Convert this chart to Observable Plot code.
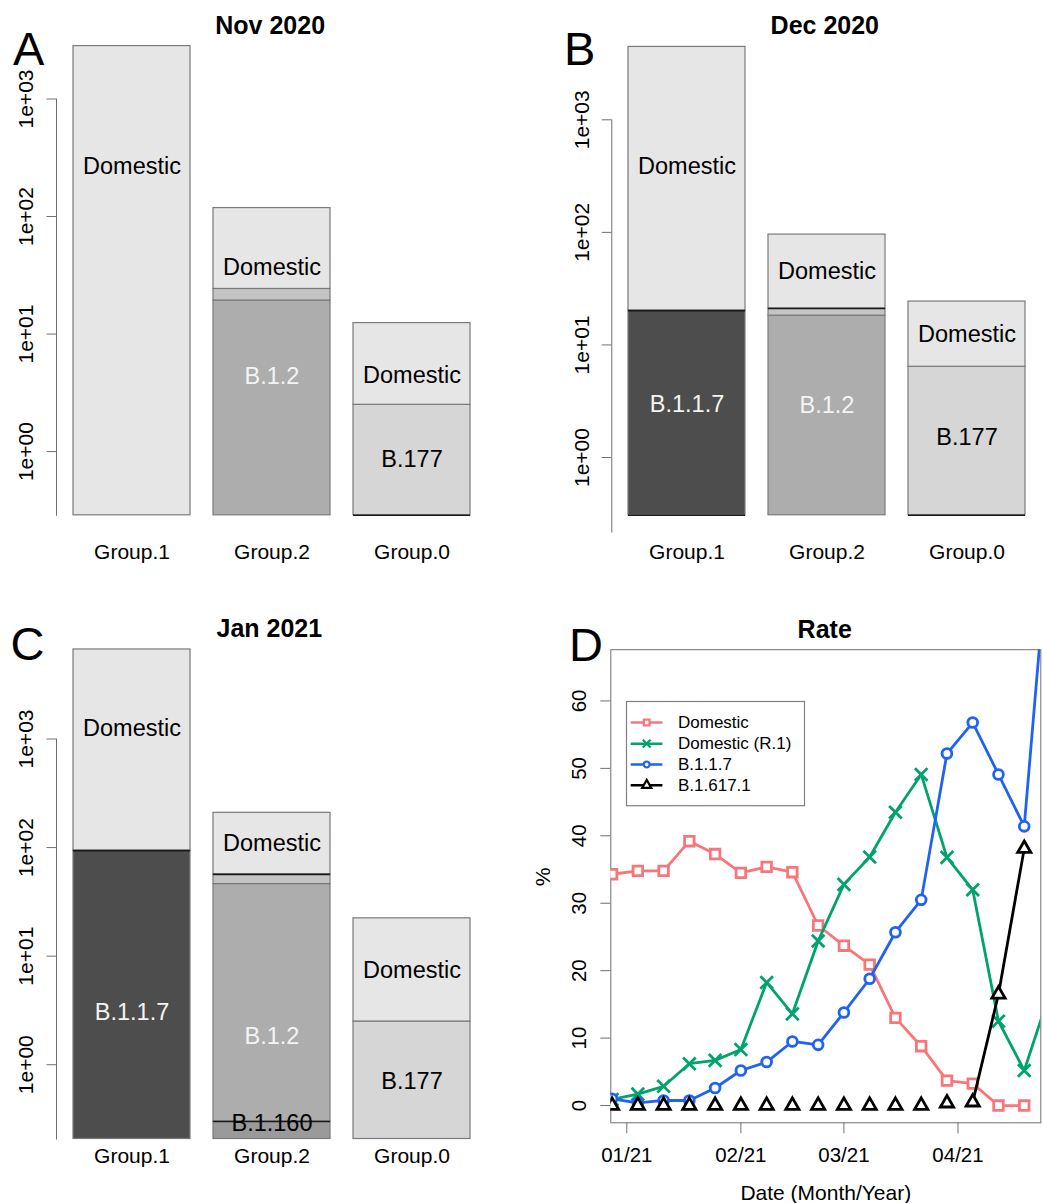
<!DOCTYPE html>
<html>
<head>
<meta charset="utf-8">
<script src="https://cdn.jsdelivr.net/npm/d3@7"></script>
<script src="https://cdn.jsdelivr.net/npm/@observablehq/plot@0.6"></script>
<style>
  html, body { margin: 0; padding: 0; background: #fff; }
  #root { position: relative; width: 1043px; height: 1203px; overflow: hidden; background: #fff;
          font-family: "Liberation Sans", Arial, Helvetica, sans-serif; color: #000; }
  .title { position: absolute; font-weight: bold; font-size: 25px; line-height: 25px; white-space: nowrap; transform: translateX(-50%); }
  .letter { position: absolute; font-size: 47px; line-height: 47px; white-space: nowrap; }
</style>
</head>
<body>
<div id="root"></div>
<script>
// ---------------- DATA ----------------
const groups = ["Group.1", "Group.2", "Group.0"];
const logTicks = [1, 10, 100, 1000];
const logTickLabels = ["1e+00", "1e+01", "1e+02", "1e+03"];

// stacked counts, bottom to top within each group
const novSegments = [
  {group: "Group.1", lineage: "Domestic", count: 2820},
  {group: "Group.2", lineage: "B.1.2", count: 19.3},
  {group: "Group.2", lineage: "Other", count: 4.9},
  {group: "Group.2", lineage: "Domestic", count: 93.8},
  {group: "Group.0", lineage: "B.177", count: 2.5},
  {group: "Group.0", lineage: "Domestic", count: 9.9}
];
const decSegments = [
  {group: "Group.1", lineage: "B.1.1.7", count: 20.2},
  {group: "Group.1", lineage: "Domestic", count: 4420},
  {group: "Group.2", lineage: "B.1.2", count: 18.2},
  {group: "Group.2", lineage: "Other", count: 2.9},
  {group: "Group.2", lineage: "Domestic", count: 74.5},
  {group: "Group.0", lineage: "B.177", count: 6.4},
  {group: "Group.0", lineage: "Domestic", count: 17.9}
];
const janSegments = [
  {group: "Group.1", lineage: "B.1.1.7", count: 93.8},
  {group: "Group.1", lineage: "Domestic", count: 6586},
  {group: "Group.2", lineage: "B.1.160", count: 0.3},
  {group: "Group.2", lineage: "B.1.2", count: 45.8},
  {group: "Group.2", lineage: "Other", count: 10.5},
  {group: "Group.2", lineage: "Domestic", count: 152.4},
  {group: "Group.0", lineage: "B.177", count: 2.5},
  {group: "Group.0", lineage: "Domestic", count: 19.8}
];

// bar label anchors (value on the log axis)
const novLabels = [
  {group: "Group.1", lineage: "Domestic", at: 268},
  {group: "Group.2", lineage: "Domestic", at: 37.2},
  {group: "Group.2", lineage: "B.1.2", at: 4.37},
  {group: "Group.0", lineage: "Domestic", at: 4.47},
  {group: "Group.0", lineage: "B.177", at: 0.865}
];
const decLabels = [
  {group: "Group.1", lineage: "Domestic", at: 386},
  {group: "Group.1", lineage: "B.1.1.7", at: 2.93},
  {group: "Group.2", lineage: "Domestic", at: 44.9},
  {group: "Group.2", lineage: "B.1.2", at: 2.91},
  {group: "Group.0", lineage: "Domestic", at: 12.3},
  {group: "Group.0", lineage: "B.177", at: 1.51}
];
const janLabels = [
  {group: "Group.1", lineage: "Domestic", at: 1250},
  {group: "Group.1", lineage: "B.1.1.7", at: 3.04},
  {group: "Group.2", lineage: "Domestic", at: 110},
  {group: "Group.2", lineage: "B.1.2", at: 1.82},
  {group: "Group.2", lineage: "B.1.160", at: 0.286},
  {group: "Group.0", lineage: "Domestic", at: 7.46},
  {group: "Group.0", lineage: "B.177", at: 0.70}
];

// segment edges drawn darker
const novDarkEdges = [{group: "Group.0", lineage: "B.177", side: "bottom"}];
const decDarkEdges = [
  {group: "Group.1", lineage: "B.1.1.7", side: "bottom"},
  {group: "Group.1", lineage: "B.1.1.7", side: "top"},
  {group: "Group.2", lineage: "Other", side: "top"},
  {group: "Group.0", lineage: "B.177", side: "bottom"}
];
const janDarkEdges = [
  {group: "Group.1", lineage: "B.1.1.7", side: "top"},
  {group: "Group.2", lineage: "Other", side: "top"},
  {group: "Group.2", lineage: "B.1.160", side: "top"}
];

// Rate panel
const weeks = ["2020-12-28","2021-01-04","2021-01-11","2021-01-18","2021-01-25","2021-02-01","2021-02-08",
  "2021-02-15","2021-02-22","2021-03-01","2021-03-08","2021-03-15","2021-03-22","2021-03-29","2021-04-05",
  "2021-04-12","2021-04-19","2021-04-26"];
const domesticRate   = [34.3, 34.8, 34.8, 39.2, 37.3, 34.5, 35.4, 34.6, 26.7, 23.7, 20.9, 13.0, 8.8, 3.7, 3.25, 0, 0, null];
const domesticR1Rate = [0.9, 1.7, 2.85, 6.2, 6.7, 8.3, 18.25, 13.6, 24.4, 32.8, 36.85, 43.5, 49.1, 36.8, 32.0, 12.5, 5.2, 16.8];
const b117Rate       = [1.0, 0.4, 0.75, 0.75, 2.6, 5.2, 6.45, 9.5, 9.0, 13.8, 18.8, 25.7, 30.5, 52.2, 56.8, 49.1, 41.4, 86.5];
const b16171Rate     = [0, 0, 0, 0, 0, 0, 0, 0, 0, 0, 0, 0, 0, 0.35, 0.5, 16.5, 38.1, null];
const b16171LineStart = "2021-04-05";
const seriesNames = ["Domestic", "Domestic (R.1)", "B.1.1.7", "B.1.617.1"];
const rateTicks = [0, 10, 20, 30, 40, 50, 60];
const monthTicks = ["2021-01-01", "2021-02-01", "2021-03-01", "2021-04-01"];
const monthTickLabels = ["01/21", "02/21", "03/21", "04/21"];
const rateXDomain = ["2020-12-27T15:40:00Z", "2021-04-23T12:00:00Z"];
const rateYDomain = [-2.56, 67.6];

// ---------------- STYLE ----------------
const fontFamily = '"Liberation Sans", Arial, Helvetica, sans-serif';
const lineageFill = {"Domestic": "#e6e6e6", "B.1.1.7": "#4d4d4d", "B.1.2": "#adadad", "Other": "#c4c4c4", "B.177": "#d6d6d6", "B.1.160": "#9a9a9a"};
const labelInk = {"Domestic": "#000000", "B.1.1.7": "#f4f4f4", "B.1.2": "#f4f4f4", "B.177": "#000000", "B.1.160": "#000000"};
const seriesColors = ["#f8767a", "#00a36c", "#1f62f5", "#000000"];
const seriesSymbols = ["square", "times", "circle", "triangle"];
const seriesR = [5.4, 5.8, 4.9, 4.9];
const axisGray = "#707070";

const root = document.getElementById("root");
function place(node, left, top) {
  node.style.position = "absolute";
  node.style.left = left + "px";
  node.style.top = top + "px";
  root.appendChild(node);
}

function stackSegments(segments, base) {
  const acc = new Map();
  return segments.map(s => {
    const prev = acc.has(s.group) ? acc.get(s.group) : 0;
    const y1 = acc.has(s.group) ? prev : base;
    const y2 = prev + s.count;
    acc.set(s.group, y2);
    return {...s, y1, y2};
  });
}

function barPanel(cfg) {
  const rows = stackSegments(cfg.segments, cfg.base);
  const edges = cfg.darkEdges.map(e => {
    const r = rows.find(r => r.group === e.group && r.lineage === e.lineage);
    return {group: e.group, y: e.side === "top" ? r.y2 : r.y1};
  });
  const labels = cfg.labels.map(l => ({...l, text: l.lineage}));
  return Plot.plot({
    width: cfg.width, height: cfg.height,
    marginLeft: cfg.marginLeft, marginRight: cfg.marginRight,
    marginTop: cfg.marginTop, marginBottom: cfg.marginBottom,
    style: {fontFamily, background: "white", overflow: "visible", color: "black"},
    x: {type: "band", domain: groups, paddingInner: 1 / 6, paddingOuter: cfg.paddingOuter, axis: null, label: null},
    y: {type: "log", domain: [cfg.yMin, 1000], axis: null, label: null},
    marks: [
      Plot.barY(rows, {x: "group", y1: "y1", y2: "y2", fill: d => lineageFill[d.lineage], stroke: "#7a7a7a", strokeWidth: 1.2}),
      Plot.tickY(edges, {x: "group", y: "y", stroke: "#1a1a1a", strokeWidth: 1.6}),
      Plot.text(labels, {x: "group", y: "at", text: "text", fill: d => labelInk[d.lineage], fontSize: 23.5, lineAnchor: "middle"}),
      Plot.frame({anchor: "left", stroke: axisGray}),
      Plot.axisY(logTicks, {tickSize: 9.5, stroke: axisGray, fill: "none", tickFormat: () => "", label: null}),
      Plot.text(logTicks, {y: d => d, text: (d, i) => logTickLabels[i], frameAnchor: "left", dx: -30, rotate: -90,
        lineAnchor: "middle", textAnchor: "middle", fontSize: 21, fill: "black"}),
      Plot.axisX({tickSize: 0, tickPadding: cfg.groupPad, fontSize: 21, fill: "black", label: null})
    ]
  });
}

// Panel A
place(barPanel({segments: novSegments, labels: novLabels, darkEdges: novDarkEdges, base: 0.287, yMin: 0.287,
  width: 521, height: 600, marginLeft: 56, marginRight: 34.7, marginTop: 98.5, marginBottom: 85.2,
  paddingOuter: 0.1138, groupPad: 28.8}), 0, 0);
// Panel B
place(barPanel({segments: decSegments, labels: decLabels, darkEdges: decDarkEdges, base: 0.307, yMin: 0.218,
  width: 522, height: 600, marginLeft: 90.3, marginRight: 2.3, marginTop: 119.3, marginBottom: 68.5,
  paddingOuter: 0.1117, groupPad: 12.1}), 521, 0);
// Panel C
place(barPanel({segments: janSegments, labels: janLabels, darkEdges: janDarkEdges, base: 0.207, yMin: 0.207,
  width: 521, height: 603, marginLeft: 56, marginRight: 34.7, marginTop: 138.5, marginBottom: 64.5,
  paddingOuter: 0.1138, groupPad: 8.6}), 0, 600);

// Panel D
const weekDates = weeks.map(d => new Date(d));
const monthTickDates = monthTicks.map(d => new Date(d));
const seriesValues = [domesticRate, domesticR1Rate, b117Rate, b16171Rate];
const seriesRows = seriesValues.map((vals, k) => vals.map((v, i) => ({date: weekDates[i], value: v, name: seriesNames[k]})));
const lineStart = new Date(b16171LineStart);

const rateMarks = [Plot.frame({stroke: axisGray})];
seriesRows.forEach((rows, k) => {
  const lineRows = k === 3 ? rows.filter(d => d.date >= lineStart) : rows;
  rateMarks.push(Plot.line(lineRows, {x: "date", y: "value", stroke: seriesColors[k], strokeWidth: 2.8, clip: true}));
  rateMarks.push(Plot.dot(rows.filter(d => d.value != null), {x: "date", y: "value", symbol: seriesSymbols[k], r: seriesR[k],
    stroke: seriesColors[k], strokeWidth: 2.8, fill: "white", clip: true}));
});
rateMarks.push(
  Plot.axisY(rateTicks, {tickSize: 10, stroke: axisGray, fill: "none", tickFormat: () => "", label: null}),
  Plot.text(rateTicks, {y: d => d, text: d => String(d), frameAnchor: "left", dx: -31, rotate: -90,
    lineAnchor: "middle", textAnchor: "middle", fontSize: 20.5, fill: "black"}),
  Plot.axisX(monthTickDates, {tickSize: 11, tickPadding: 14, stroke: axisGray, fill: "black", fontSize: 20.5, label: null,
    tickFormat: d => monthTickLabels[monthTickDates.findIndex(t => +t === +d)]}),
  Plot.text(["%"], {text: d => d, frameAnchor: "left", dx: -67.6, rotate: -90, lineAnchor: "middle", fontSize: 21, fill: "black"}),
  Plot.text(["Date (Month/Year)"], {text: d => d, frameAnchor: "bottom", dy: 70, lineAnchor: "middle", fontSize: 21, fill: "black"})
);

place(Plot.plot({
  width: 522, height: 603,
  marginLeft: 89.3, marginRight: 2.7, marginTop: 49.2, marginBottom: 80.7,
  style: {fontFamily, background: "white", overflow: "visible", color: "black"},
  x: {type: "utc", domain: rateXDomain.map(d => new Date(d)), axis: null, label: null},
  y: {domain: rateYDomain, axis: null, label: null},
  marks: rateMarks
}), 521, 600);

// Legend for panel D
(function legend() {
  const w = 178, h = 104.2;
  const svg = d3.create("svg").attr("width", w + 2).attr("height", h + 2)
    .style("overflow", "visible").style("font-family", fontFamily);
  svg.append("rect").attr("x", 0.5).attr("y", 0.5).attr("width", w).attr("height", h)
    .attr("fill", "white").attr("stroke", "#808080").attr("stroke-width", 1.2);
  const rowY = [21.5, 42.7, 63.4, 84.2];
  const symMap = {square: d3.symbolSquare, times: d3.symbolTimes, circle: d3.symbolCircle, triangle: d3.symbolTriangle};
  const legendR = [3.2, 3.6, 2.9, 3.4];
  seriesNames.forEach((name, k) => {
    const g = svg.append("g").attr("transform", `translate(0,${rowY[k]})`);
    g.append("line").attr("x1", 4.7).attr("x2", 36.4).attr("y1", 0).attr("y2", 0)
      .attr("stroke", seriesColors[k]).attr("stroke-width", 2.5);
    g.append("path").attr("transform", "translate(20.7,0)")
      .attr("d", d3.symbol(symMap[seriesSymbols[k]], Math.PI * legendR[k] * legendR[k])())
      .attr("fill", "white").attr("stroke", seriesColors[k]).attr("stroke-width", 2.2);
    g.append("text").attr("x", 52).attr("y", 0).attr("dy", "0.34em").attr("font-size", 17).attr("fill", "black").text(name);
  });
  place(svg.node(), 626.3, 700.8);
})();

// Titles and panel letters
function addText(cls, text, left, top) {
  const div = document.createElement("div");
  div.className = cls;
  div.textContent = text;
  place(div, left, top);
}
addText("title", "Nov 2020", 270.2, 12.8);
addText("title", "Dec 2020", 824.8, 12.8);
addText("title", "Jan 2021", 269.3, 616.1);
addText("title", "Rate", 824.7, 617.3);
addText("letter", "A", 13, 25.2);
addText("letter", "B", 564, 25);
addText("letter", "C", 10.6, 619.7);
addText("letter", "D", 569, 620.7);
</script>
</body>
</html>
